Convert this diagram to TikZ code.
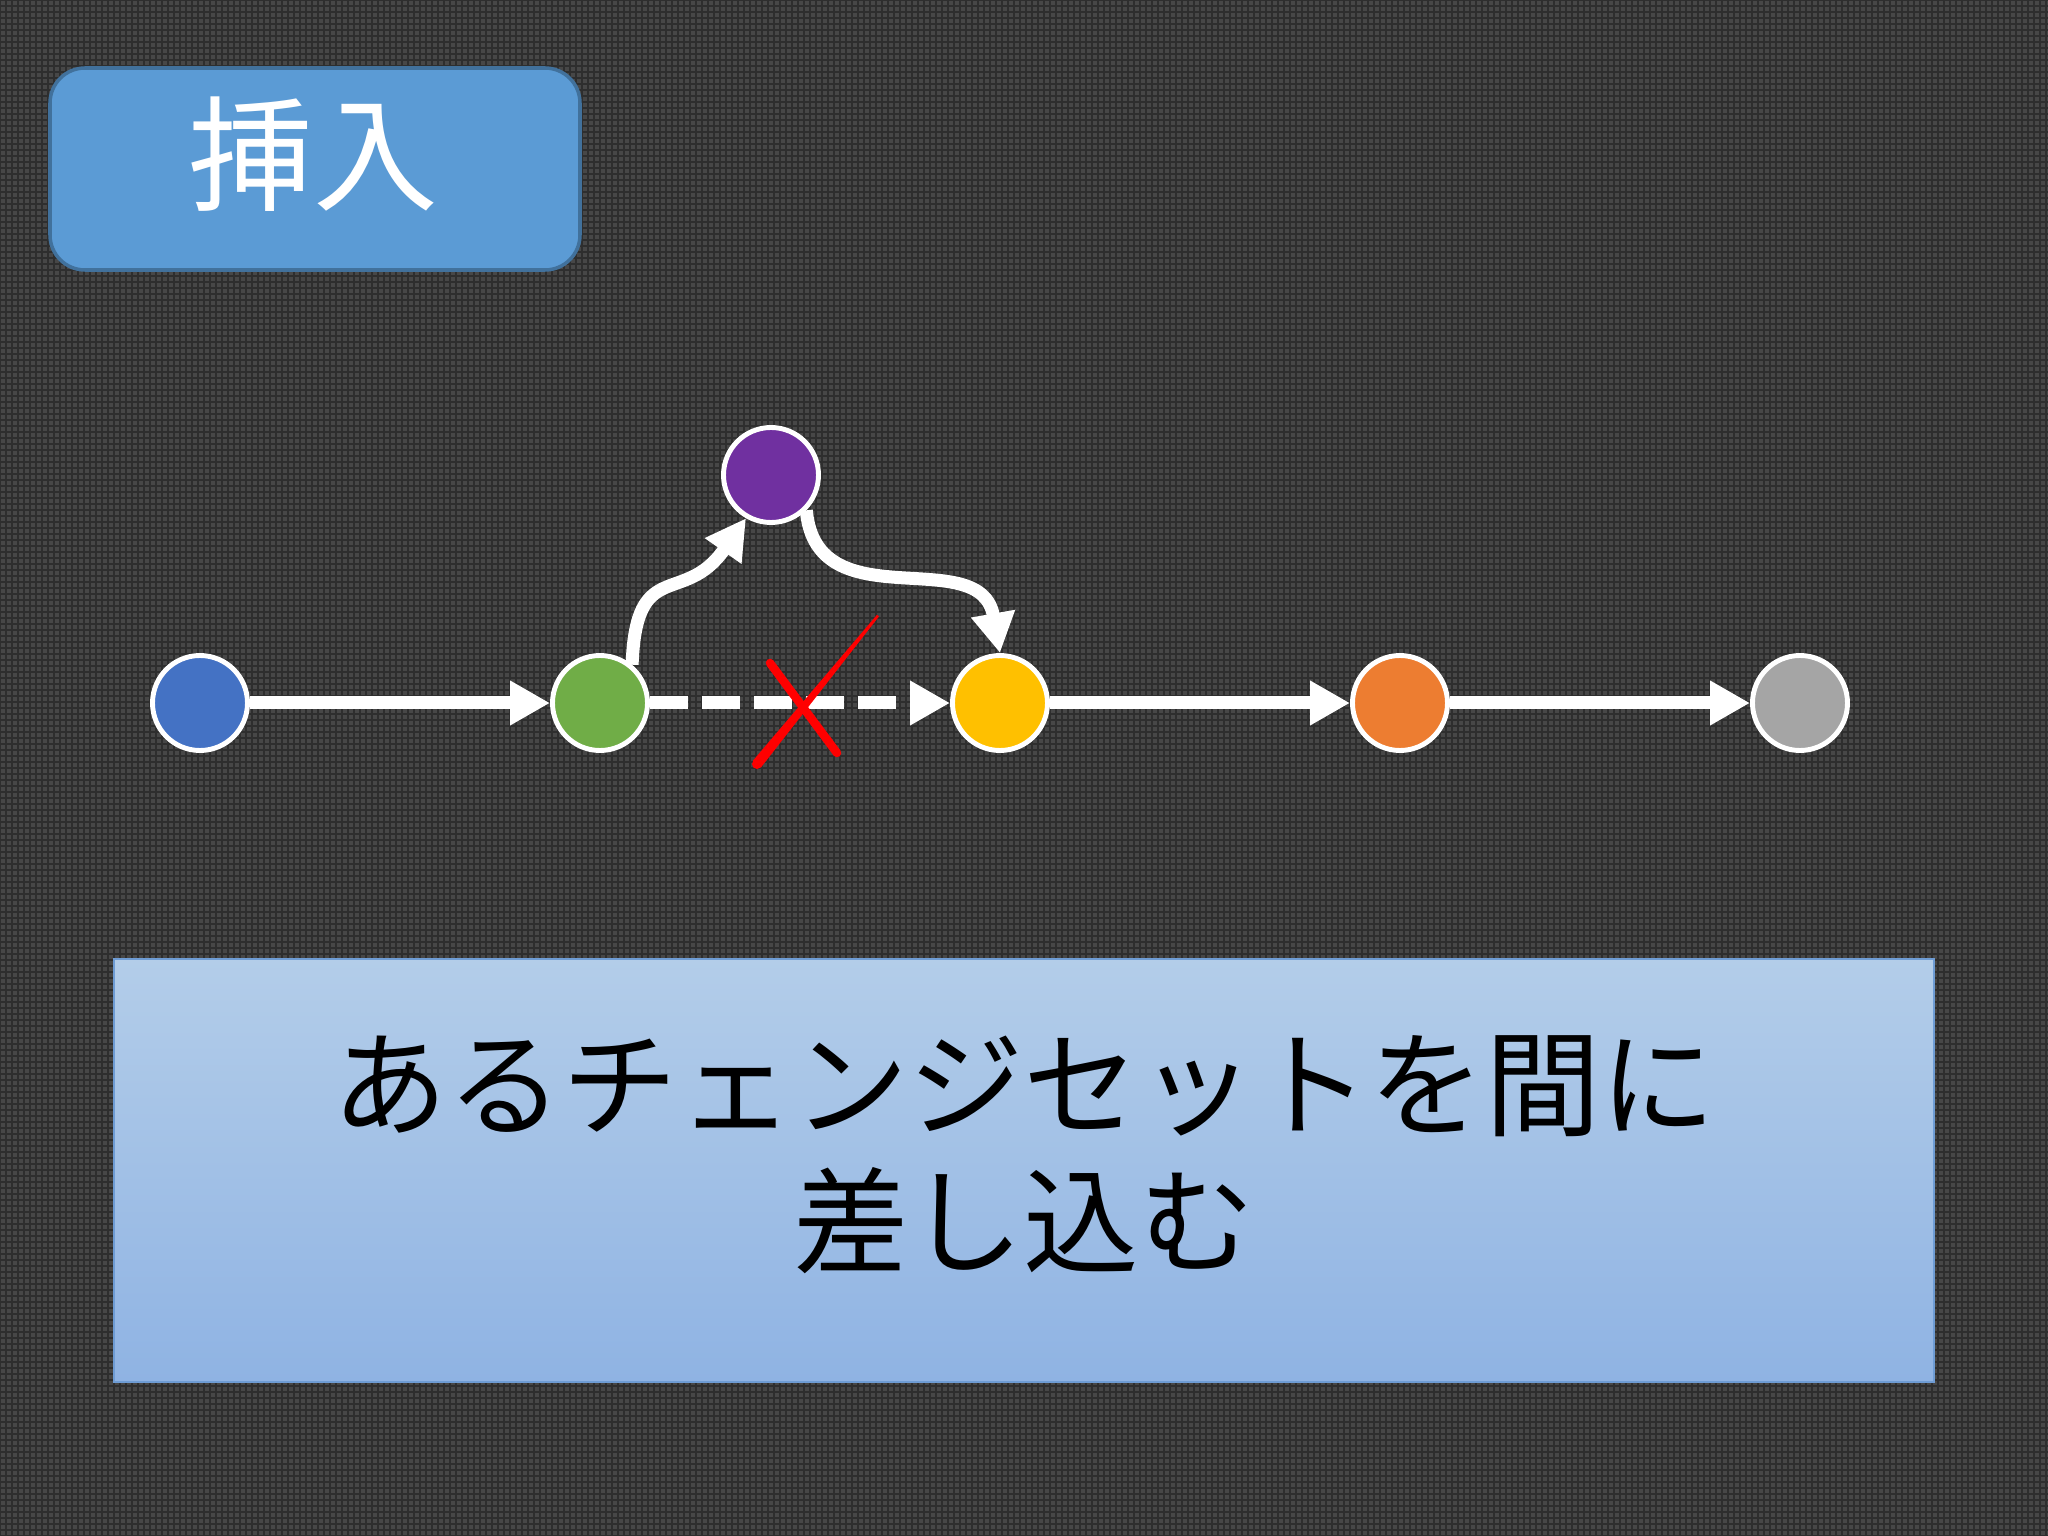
\documentclass[tikz,border=0pt]{standalone}
\usepackage{fontspec}
\setmainfont{Noto Sans CJK JP}
\usepackage{tikz}
\usetikzlibrary{arrows.meta}
\usetikzlibrary{positioning}
\definecolor{bgdark}{HTML}{474747}
\definecolor{bgline}{HTML}{2E2E2E}
\definecolor{titleblue}{HTML}{5B9BD5}
\definecolor{titleedge}{HTML}{41719C}
\definecolor{cblue}{HTML}{4472C4}
\definecolor{cgreen}{HTML}{70AD47}
\definecolor{cyellow}{HTML}{FFC000}
\definecolor{corange}{HTML}{ED7D31}
\definecolor{cgray}{HTML}{A5A5A5}
\definecolor{cpurple}{HTML}{7030A0}
\definecolor{notetop}{HTML}{B3CDE9}
\definecolor{notebottom}{HTML}{8FB3E3}
\definecolor{noteedge}{HTML}{6E9CD4}

\begin{document}
\begin{tikzpicture}[node distance = 4cm, auto,
		commit/.style={draw=white, line width=1.4pt, circle, minimum size=0.95cm, inner sep=0pt},
		link/.style={white, line width=0.13cm, -{Triangle[length=0.4cm, width=0.42cm]}},
		titlebox/.style={fill=titleblue, draw=titleedge, line width=1pt, rounded corners=0.35cm, minimum width=5.3cm, minimum height=2.02cm},
		notebox/.style={top color=notetop, bottom color=notebottom, draw=noteedge, line width=0.8pt, minimum width=18.2cm, minimum height=4.23cm}]
			\useasboundingbox (0,0) rectangle (20.48,-15.36);
			\fill[bgdark] (0,0) rectangle (20.48,-15.36);
			\draw[bgline, line width=0.02cm, step=0.06cm] (0,-15.36) grid (20.48,0);
			\node[titlebox] (title) at (3.15,-1.69) {};
			\node[text=white, font=\fontsize{35.5}{40}\selectfont] (titletext) at (3.13,-1.54) {挿入};
			\node[commit, fill=cblue] (blue) at (2.0,-7.03) {};
			\node[commit, fill=cgreen, right of=blue] (green) {};
			\node[commit, fill=cyellow, right of=green] (yellow) {};
			\node[commit, fill=corange, right of=yellow] (orange) {};
			\node[commit, fill=cgray, right of=orange] (gray) {};
			\node[commit, fill=cpurple] (purple) at (7.71,-4.75) {};
			\draw[link] (blue) -- (green);
			\draw[link, dash pattern=on 0.38cm off 0.14cm] (green) -- (yellow);
			\draw[link] (yellow) -- (orange);
			\draw[link] (orange) -- (gray);
			\draw[link] (green.50) to[out=88, in=-125, looseness=1.5] (purple.-120);
			\draw[link] (purple.-45) to[out=-85, in=100, looseness=1.2] (yellow.north);
			\fill[red] (7.53,-7.606) -- (7.61,-7.674) -- (8.79,-6.164) -- (8.77,-6.148) -- cycle;
			\fill[red] (7.57,-7.64) circle (0.05);
			\draw[red, line width=0.085cm, line cap=round] (7.70,-6.63) -- (8.37,-7.53);
			\node[notebox] (note) at (10.24,-11.705) {};
			\node[align=center, font=\fontsize{32.8}{39}\selectfont] (notetext) at (10.24,-11.55) {あるチェンジセットを間に\\差し込む};
		\end{tikzpicture}
\end{document}
